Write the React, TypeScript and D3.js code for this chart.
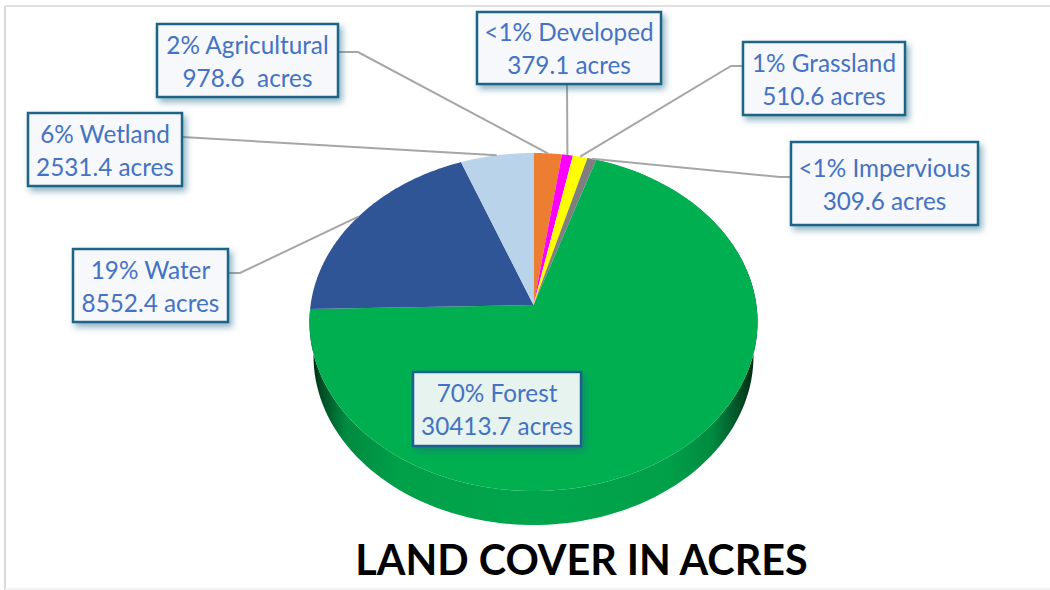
import React from "react";
import * as d3 from "d3";

const categories = ["Agricultural", "Developed", "Grassland", "Impervious", "Forest", "Water", "Wetland"];
const acres = [978.6, 379.1, 510.6, 309.6, 30413.7, 8552.4, 2531.4];
const sliceColors = ["#ed7d31", "#ff00ff", "#ffff00", "#7f7f7f", "#00b050", "#2f5597", "#b9d3ea"];
const labelLine1 = ["2% Agricultural", "<1% Developed", "1% Grassland", "<1% Impervious", "70% Forest", "19% Water", "6% Wetland"];
const labelLine2 = ["978.6  acres", "379.1 acres", "510.6 acres", "309.6 acres", "30413.7 acres", "8552.4 acres", "2531.4 acres"];
const title = "LAND COVER IN ACRES";

// label layout: [x0, y0, x1, y1]
const boxes = [
  [157, 24, 338, 97],
  [477, 12, 661, 84],
  [743, 42, 905, 115],
  [791, 142, 978, 225],
  [413, 372, 581, 446],
  [73, 249, 228, 322],
  [28, 113, 182, 186],
];
// leader anchor on box side + elbow
const leaders: ([number, number][] | null)[] = [
  [[338, 52], [358, 52]],
  [[567, 84]],
  [[743, 66], [731, 66]],
  [[791, 177], [780, 177]],
  null,
  [[228, 273], [240, 273]],
  [[182, 137]],
];

const CX = 533.5, APEX_Y = 305, A = 222.9, B = 136.6, C = -0.1006;
const project = (theta: number, r = 1, dy = 0, k = 1): [number, number] => {
  const u = r * Math.sin(theta), v = -r * Math.cos(theta);
  const d = 1 + C * v;
  return [CX + (k * A * u) / d, (APEX_Y + B * v) / d + dy];
};
const line = d3.line<[number, number]>().x((d) => d[0]).y((d) => d[1]);

const arcPoints = (a0: number, a1: number, dy = 0, k = 1) =>
  d3.range(0, 121).map((i) => project(a0 + ((a1 - a0) * i) / 120, 1, dy, k));

export default function App() {
  const arcs = d3.pie<number>().sort(null)(acres);
  const forest = arcs[categories.indexOf("Forest")];
  const top = arcPoints(forest.startAngle, forest.endAngle);
  const bottom = arcPoints(forest.startAngle, forest.endAngle, 34, 0.982).reverse();
  return (
    <svg width={1050} height={590} style={{ position: "absolute", left: 0, top: 0, display: "block" }}>
      <defs>
        <linearGradient id="side" x1="0" x2="1" y1="0" y2="0">
          <stop offset="0" stopColor="#001f0e" />
          <stop offset="0.025" stopColor="#004a22" />
          <stop offset="0.08" stopColor="#008a40" />
          <stop offset="0.2" stopColor="#00a049" />
          <stop offset="0.5" stopColor="#00a64c" />
          <stop offset="0.8" stopColor="#00a049" />
          <stop offset="0.9" stopColor="#008a40" />
          <stop offset="0.96" stopColor="#004f25" />
          <stop offset="1" stopColor="#001f0e" />
        </linearGradient>
        <filter id="shadow" x="-15%" y="-20%" width="135%" height="150%">
          <feDropShadow dx="3" dy="4" stdDeviation="3" floodColor="#1f6587" floodOpacity="0.5" />
        </filter>
      </defs>
      <line x1={5} y1={6} x2={5} y2={590} stroke="#d9d9d9" strokeWidth={2} />
      <line x1={5} y1={6} x2={1050} y2={6} stroke="#e0e0e0" strokeWidth={2} />
      <line x1={5} y1={589} x2={1050} y2={589} stroke="#f0f0f0" strokeWidth={1.5} />
      <path d={line([...top, ...bottom])! + "Z"} fill="url(#side)" />
      {arcs.map((a, i) => (
        <path
          key={categories[i]}
          d={line([[CX, APEX_Y], ...arcPoints(a.startAngle, a.endAngle)])! + "Z"}
          fill={sliceColors[i]}
        />
      ))}
      {arcs.map((a, i) => {
        const l = leaders[i];
        if (!l) return null;
        const mid = (a.startAngle + a.endAngle) / 2;
        return (
          <path key={i} d={line([...l, project(mid)])!} fill="none" stroke="#a6a6a6" strokeWidth={2} />
        );
      })}
      {boxes.map(([x0, y0, x1, y1], i) => {
        const isForest = categories[i] === "Forest";
        const cx = (x0 + x1) / 2;
        const my = (y0 + y1) / 2;
        return (
          <g key={i}>
            <rect
              x={x0}
              y={y0}
              width={x1 - x0}
              height={y1 - y0}
              fill={isForest ? "#e6f3ef" : "#f6f8fb"}
              stroke={isForest ? "#1f6090" : "#1f6587"}
              strokeWidth={2.5}
              filter="url(#shadow)"
            />
            <text x={cx} y={my - 7} textAnchor="middle" fontFamily="Lato" fontSize={24.3} fill="#4472c4" style={{ whiteSpace: "pre" }}>
              {labelLine1[i]}
            </text>
            <text x={cx} y={my + 26} textAnchor="middle" fontFamily="Lato" fontSize={24.3} fill="#4472c4" style={{ whiteSpace: "pre" }}>
              {labelLine2[i]}
            </text>
          </g>
        );
      })}
      <text x={581.5} y={574.5} textAnchor="middle" fontFamily="Lato" fontWeight={700} fontSize={41.3} fill="#000">
        {title}
      </text>
    </svg>
  );
}
